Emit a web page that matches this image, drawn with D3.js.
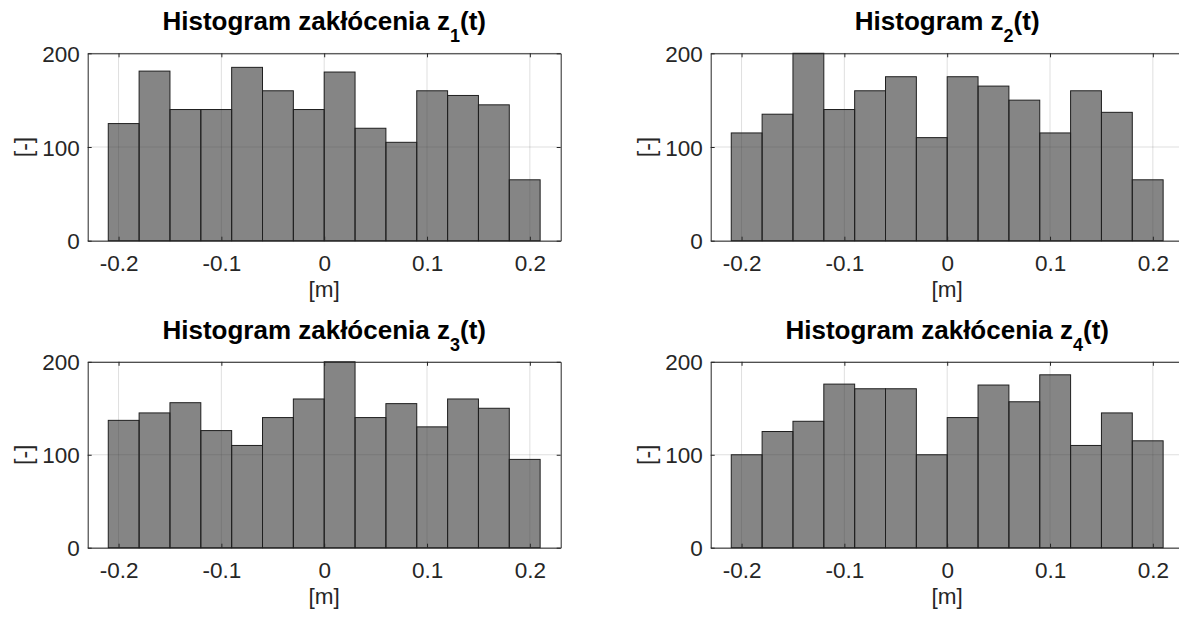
<!DOCTYPE html>
<html>
<head>
<meta charset="utf-8">
<script src="https://cdn.jsdelivr.net/npm/d3@7"></script>
<style>
  html, body { margin: 0; padding: 0; background: #fff; overflow: hidden; }
  svg { display: block; }
  text { font-family: "Liberation Sans", Arial, Helvetica, sans-serif; }
</style>
</head>
<body>
<svg id="fig" width="1179" height="618"></svg>
<script>
// Histogram bin edges [m] (14 bins, width 0.03)
const binEdges = [-0.21, -0.18, -0.15, -0.12, -0.09, -0.06, -0.03, 0, 0.03, 0.06, 0.09, 0.12, 0.15, 0.18, 0.21];

// Counts per bin for each disturbance signal
const countsZ1 = [125, 181, 140, 140, 185, 160, 140, 180, 120, 105, 160, 155, 145, 65];
const countsZ2 = [115, 135, 200, 140, 160, 175, 110, 175, 165, 150, 115, 160, 137, 65];
const countsZ3 = [137, 145, 156, 126, 110, 140, 160, 200, 140, 155, 130, 160, 150, 95];
const countsZ4 = [100, 125, 136, 176, 171, 171, 100, 140, 175, 157, 186, 110, 145, 115];

// Title parts: main text, subscript, trailing text
const titleMain = ["Histogram zakłócenia z", "Histogram z", "Histogram zakłócenia z", "Histogram zakłócenia z"];
const titleSub = ["1", "2", "3", "4"];
const titleTail = "(t)";

// Axis ticks and labels
const xTicks = [-0.2, -0.1, 0, 0.1, 0.2];
const xTickLabels = ["-0.2", "-0.1", "0", "0.1", "0.2"];
const yTicks = [0, 100, 200];
const yTickLabels = ["0", "100", "200"];
const xDomain = [-0.23, 0.23];
const yDomain = [0, 200];
const xLabelText = "[m]";
const yLabelText = "[-]";

const seriesList = [countsZ1, countsZ2, countsZ3, countsZ4];

// Subplot placement (2 x 2 grid)
const panelW = 473;
const cols = [87.7, 710.7];
const rows = [{ top: 53.3, h: 187.4 }, { top: 361.8, h: 185.9 }];

const svg = d3.select("#fig");
const axisColor = "#262626";

seriesList.forEach((counts, i) => {
  const left = cols[i % 2];
  const row = rows[Math.floor(i / 2)];
  const top = row.top, h = row.h;

  const x = d3.scaleLinear().domain(xDomain).range([left, left + panelW]);
  const y = d3.scaleLinear().domain(yDomain).range([top + h, top]);

  const g = svg.append("g");

  // grid lines (under the bars)
  const grid = g.append("g").attr("stroke", "rgba(38,38,38,0.15)").attr("stroke-width", 1);
  xTicks.forEach(t => {
    grid.append("line").attr("x1", x(t)).attr("x2", x(t)).attr("y1", top).attr("y2", top + h);
  });
  yTicks.forEach(t => {
    grid.append("line").attr("x1", left).attr("x2", left + panelW).attr("y1", y(t)).attr("y2", y(t));
  });

  // bars
  const bins = counts.map((c, k) => ({ x0: binEdges[k], x1: binEdges[k + 1], count: c }));
  g.append("g").selectAll("rect").data(bins).join("rect")
    .attr("x", d => x(d.x0))
    .attr("width", d => x(d.x1) - x(d.x0))
    .attr("y", d => y(d.count))
    .attr("height", d => y(0) - y(d.count))
    .attr("fill", "rgba(51,51,51,0.6)")
    .attr("stroke", "#1f1f1f")
    .attr("stroke-width", 1);

  // axes box and inward ticks on all four sides
  const tickLen = 4;
  const xAxisB = d3.axisBottom(x).tickValues(xTicks).tickSizeInner(-tickLen).tickSizeOuter(0).tickFormat((d, k) => xTickLabels[k]).tickPadding(10);
  const xAxisT = d3.axisTop(x).tickValues(xTicks).tickSizeInner(-tickLen).tickSizeOuter(0).tickFormat("");
  const yAxisL = d3.axisLeft(y).tickValues(yTicks).tickSizeInner(-tickLen).tickSizeOuter(0).tickFormat((d, k) => yTickLabels[k]).tickPadding(8);
  const yAxisR = d3.axisRight(y).tickValues(yTicks).tickSizeInner(-tickLen).tickSizeOuter(0).tickFormat("");

  const styleAxis = sel => {
    sel.selectAll("path").attr("stroke", axisColor).attr("stroke-width", 1);
    sel.selectAll("line").attr("stroke", axisColor).attr("stroke-width", 1);
    sel.selectAll("text").attr("fill", axisColor).style("font-size", "22.5px")
      .style("font-family", "\"Liberation Sans\", Arial, sans-serif");
  };

  g.append("g").attr("transform", `translate(0,${top + h})`).call(xAxisB).call(styleAxis)
    .selectAll("text").attr("dy", null).attr("y", 30).attr("dominant-baseline", "auto");
  g.append("g").attr("transform", `translate(0,${top})`).call(xAxisT).call(styleAxis);
  g.append("g").attr("transform", `translate(${left},0)`).call(yAxisL).call(styleAxis)
    .selectAll("text").attr("dy", "0.36em");
  g.append("g").attr("transform", `translate(${left + panelW},0)`).call(yAxisR).call(styleAxis);

  // title with subscript
  const title = g.append("text")
    .attr("x", left + panelW / 2)
    .attr("y", top - 23)
    .attr("text-anchor", "middle")
    .attr("fill", "#000")
    .style("font-size", "26px")
    .style("font-weight", "bold");
  title.append("tspan").text(titleMain[i]);
  title.append("tspan").attr("dy", 12).style("font-size", "18px").text(titleSub[i]);
  title.append("tspan").attr("dy", -12).text(titleTail);

  // axis labels
  g.append("text")
    .attr("x", left + panelW / 2)
    .attr("y", top + h + 56.5)
    .attr("text-anchor", "middle")
    .attr("fill", axisColor)
    .style("font-size", "22.5px")
    .text(xLabelText);

  g.append("text")
    .attr("transform", `translate(${left - 63.5},${top + h / 2}) rotate(-90)`)
    .attr("text-anchor", "middle")
    .attr("dominant-baseline", "central")
    .attr("fill", axisColor)
    .style("font-size", "23px")
    .text(yLabelText);
});
</script>
</body>
</html>
